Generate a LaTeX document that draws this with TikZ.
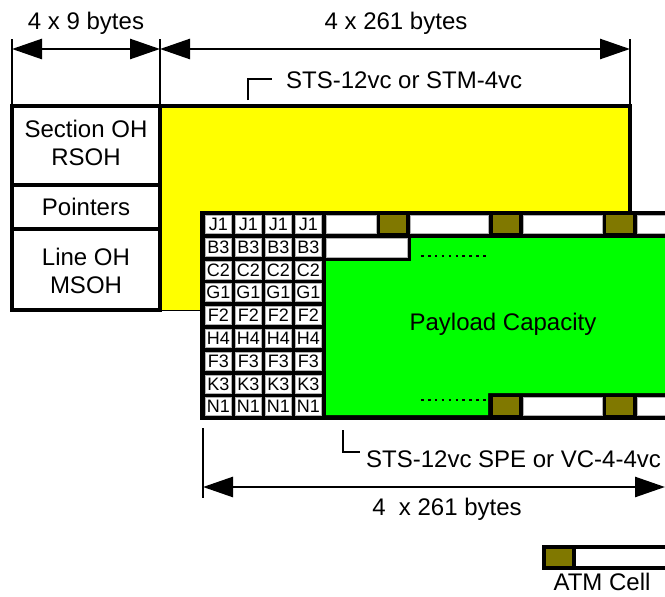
\documentclass[tikz,border=0pt]{standalone}
\usepackage{fontspec}
\setmainfont{Liberation Sans}
\usetikzlibrary{arrows.meta}
\definecolor{olivec}{RGB}{128,120,0}
\definecolor{yel}{RGB}{255,255,0}
\definecolor{grn}{RGB}{0,255,0}
\begin{document}
\begin{tikzpicture}[x=1pt,y=-1pt,
  lbl/.style={font=\fontsize{24}{28}\selectfont, inner sep=0pt, anchor=base},
  lblw/.style={lbl, anchor=base west},
  poh/.style={fill=white, draw=gray!60, line width=0.6pt, inner sep=0pt,
      minimum width=26pt, minimum height=18pt, anchor=north west,
      font=\fontsize{18}{20}\selectfont},
  tick/.style={line width=2pt},
  dim/.style={line width=2.6pt, {Triangle[length=30pt,width=20pt]}-{Triangle[length=30pt,width=20pt]}},
  frame/.style={line width=4pt},
  wcell/.style={fill=white, draw=gray!60, line width=0.6pt},
  ocell/.style={fill=olivec},
  dots/.style={line width=2.6pt, dash pattern=on 2.6pt off 4.3pt}
]
\useasboundingbox (0,0) rectangle (665,597);

% top dimension lines
\coordinate (t1a) at (12,39);  \coordinate (t1b) at (12,106);
\coordinate (t2a) at (160,39); \coordinate (t2b) at (160,106);
\coordinate (t3a) at (630,39); \coordinate (t3b) at (630,106);
\draw[tick] (t1a) -- (t1b);
\draw[tick] (t2a) -- (t2b);
\draw[tick] (t3a) -- (t3b);
\coordinate (a1) at (12,49); \coordinate (a2) at (160,49); \coordinate (a3) at (630,49);
\draw[dim] (a1) -- (a2);
\draw[dim] (a2) -- (a3);
\node[lbl] (w9) at (86,30) {4 x 9 bytes};
\node[lbl] (w261) at (396,30) {4 x 261 bytes};

% marker STS-12vc or STM-4vc
\coordinate (m1a) at (248,100); \coordinate (m1b) at (248,79); \coordinate (m1c) at (272,79);
\draw[tick] (m1a) -- (m1b) -- (m1c);
\node[lblw] (sts) at (286,88) {STS-12vc or STM-4vc};

% yellow frame
\fill[yel] (160,106) rectangle (630,310);
\draw[line width=0.8pt] (160,310) -- (200,310);
\draw[frame] (10,106) -- (630,106) -- (630,212);

% left overhead column
\draw[frame, fill=white] (12,106) rectangle (160,310);
\draw[frame] (12,185) -- (160,185);
\draw[frame] (12,229) -- (160,229);
\node[lbl] (soh1) at (86,137) {Section OH};
\node[lbl] (soh2) at (86,165) {RSOH};
\node[lbl] (ptr) at (86,215) {Pointers};
\node[lbl] (loh1) at (86,265) {Line OH};
\node[lbl] (loh2) at (86,293) {MSOH};

% inner VC frame
\fill[black] (200,211) rectangle (670,420);
\fill[grn] (326,261) -- (411,261) -- (411,238) -- (670,238) -- (670,393)
   -- (488,393) -- (488,415) -- (326,415) -- cycle;
% row 1 ATM cells
\filldraw[wcell] (326,215) rectangle (376,233);
\fill[ocell] (380,215) rectangle (406,233);
\filldraw[wcell] (410,215) rectangle (488,233);
\fill[ocell] (493,215) rectangle (519,233);
\filldraw[wcell] (523,215) rectangle (602,233);
\fill[ocell] (606,215) rectangle (633,233);
\filldraw[wcell] (637,215) rectangle (672,233);
% row 2
\filldraw[wcell] (326,238) rectangle (407,257);
% last row
\fill[ocell] (493,397) rectangle (519,415);
\filldraw[wcell] (523,397) rectangle (602,415);
\fill[ocell] (606,397) rectangle (633,415);
\filldraw[wcell] (637,397) rectangle (672,415);
% dots
\draw[dots] (421,256) -- (486,256);
\draw[dots] (421,400) -- (486,400);
\node[lbl] (pc) at (503,330) {Payload Capacity};

% POH columns
\foreach \lab [count=\j from 0] in {J1,B3,C2,G1,F2,H4,F3,K3,N1} {
  \foreach \i in {0,...,3} {
    \node[poh] (p\j\i) at ({205+30*\i},{215+22.8*\j}) {\lab};
  }
}

% bottom dimension
\coordinate (b1a) at (203,428); \coordinate (b1b) at (203,498);
\draw[tick] (b1a) -- (b1b);
\coordinate (ba1) at (203,487); \coordinate (ba2) at (665,487);
\draw[dim] (ba1) -- (ba2);
\coordinate (m2a) at (343,430); \coordinate (m2b) at (343,452); \coordinate (m2c) at (360,452);
\draw[tick] (m2a) -- (m2b) -- (m2c);
\node[lblw] (spe) at (366,467) {STS-12vc SPE or VC-4-4vc};
\node[lbl] (w261b) at (447,515) {4\ \ x 261 bytes};

% ATM cell legend
\fill[black] (542,545) rectangle (670,570);
\fill[ocell] (546,549) rectangle (572,566);
\fill[white] (576,549) rectangle (670,566);
\node[lbl] (atm) at (602,590) {ATM Cell};
\end{tikzpicture}
\end{document}
